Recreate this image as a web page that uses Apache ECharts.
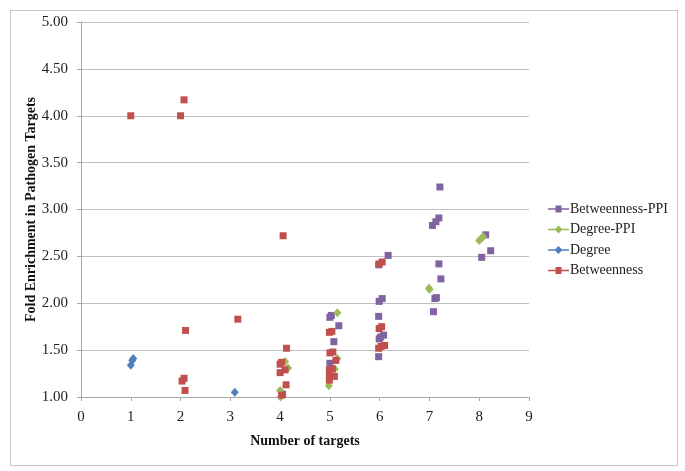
<!DOCTYPE html>
<html>
<head>
<meta charset="utf-8">
<script src="https://cdn.jsdelivr.net/npm/echarts@6/dist/echarts.min.js"></script>
<style>html,body{margin:0;padding:0;background:#fff}#c{width:685px;height:471px}</style>
</head>
<body>
<div id="c"></div>
<script>
var seriesNames = ['Betweenness-PPI', 'Degree-PPI', 'Degree', 'Betweenness'];
var xTicks = [0,1,2,3,4,5,6,7,8,9];
var yTicks = [1.00,1.50,2.00,2.50,3.00,3.50,4.00,4.50,5.00];

var betPpiX = [4.05, 5.03, 5.0, 5.18, 5.08, 5.0, 6.17, 5.98, 6.05, 5.99, 5.98, 6.08, 6.02, 5.99, 5.98, 7.21, 7.19, 7.13, 7.06, 7.19, 7.23, 7.14, 7.11, 7.08, 8.13, 8.23, 8.05];
var betPpiY = [1.03, 1.87, 1.85, 1.76, 1.59, 1.36, 2.51, 2.41, 2.05, 2.02, 1.86, 1.66, 1.64, 1.62, 1.43, 3.24, 2.91, 2.87, 2.83, 2.42, 2.26, 2.06, 2.05, 1.91, 2.73, 2.56, 2.49];

var degPpiX = [4.0, 4.01, 4.1, 4.16, 5.15, 5.15, 5.1, 4.98, 6.99, 7.0, 8.0, 8.04, 8.08];
var degPpiY = [1.07, 1.00, 1.38, 1.31, 1.90, 1.41, 1.30, 1.12, 2.16, 2.15, 2.67, 2.69, 2.71];

var degX = [1.0, 1.03, 1.05, 3.09];
var degY = [1.34, 1.39, 1.41, 1.05];

var betX = [1.0, 2.0, 2.07, 4.06, 2.10, 3.15, 2.03, 2.07, 2.09, 4.13, 4.0, 4.03, 4.0, 4.1, 4.12, 4.03, 4.99, 5.04, 5.0, 5.06, 5.12, 4.99, 5.05, 4.99, 5.09, 4.99, 5.99, 6.05, 5.99, 6.04, 6.1, 6.03, 5.98];
var betY = [4.00, 4.00, 4.17, 2.72, 1.71, 1.83, 1.17, 1.20, 1.07, 1.52, 1.35, 1.37, 1.26, 1.29, 1.13, 1.02, 1.69, 1.70, 1.47, 1.48, 1.39, 1.29, 1.30, 1.22, 1.22, 1.18, 2.42, 2.44, 1.73, 1.75, 1.55, 1.54, 1.52];

function pairs(xs, ys){ return xs.map(function(x,i){ return [x, ys[i]]; }); }

var colors = ['#8064A2', '#9BBB59', '#4F81BD', '#C0504D'];
var sqIcon = 'path://M0,3.3L21,3.3L21,4.7L0,4.7Z M7.5,0.5L13.5,0.5L13.5,7.5L7.5,7.5Z';
var diIcon = 'path://M0,3.3L21,3.3L21,4.7L0,4.7Z M10.5,0L14.5,4L10.5,8L6.5,4Z';
var font = '"Liberation Serif", "Times New Roman", serif';

var chart = echarts.init(document.getElementById('c'), null, {renderer: 'canvas'});
chart.setOption({
  animation: false,
  backgroundColor: '#fff',
  color: colors,
  textStyle: {fontFamily: font},
  graphic: [{
    type: 'rect', left: 8, top: 8, silent: true,
    shape: {width: 667, height: 455},
    style: {fill: 'none', stroke: '#C8C8C8', lineWidth: 1}
  }],
  grid: {left: 81, right: 156, top: 22, bottom: 74},
  legend: {
    orient: 'vertical', left: 543, top: 197, itemGap: 6.5,
    itemWidth: 21, itemHeight: 8,
    textStyle: {fontFamily: font, fontSize: 14, color: '#222', padding: [0,0,0,-4]},
    data: [
      {name: seriesNames[0], icon: sqIcon},
      {name: seriesNames[1], icon: diIcon},
      {name: seriesNames[2], icon: diIcon},
      {name: seriesNames[3], icon: sqIcon}
    ]
  },
  xAxis: {
    type: 'value', min: 0, max: 9, interval: 1,
    name: 'Number of targets', nameLocation: 'middle', nameGap: 37,
    nameTextStyle: {fontFamily: font, fontSize: 14, fontWeight: 'bold', color: '#111'},
    axisLine: {show: true, lineStyle: {color: '#A6A6A6'}},
    axisTick: {show: true, length: 4, lineStyle: {color: '#A6A6A6'}},
    axisLabel: {fontFamily: font, fontSize: 15, color: '#222', margin: 13,
      formatter: function(v){ return xTicks.indexOf(v) >= 0 ? String(v) : ''; }},
    splitLine: {show: false}
  },
  yAxis: {
    type: 'value', min: 1, max: 5, interval: 0.5,
    name: 'Fold Enrichment in Pathogen Targets', nameLocation: 'middle', nameGap: 43,
    nameMoveOverlap: false,
    nameTextStyle: {fontFamily: font, fontSize: 14, fontWeight: 'bold', color: '#111'},
    axisLine: {show: true, lineStyle: {color: '#A6A6A6'}},
    axisTick: {show: true, length: 4, lineStyle: {color: '#A6A6A6'}},
    axisLabel: {fontFamily: font, fontSize: 15, color: '#222', margin: 13,
      formatter: function(v){ return v.toFixed(2); }},
    splitLine: {show: true, lineStyle: {color: '#BFBFBF', width: 1}}
  },
  series: [
    {name: seriesNames[0], type: 'scatter', symbol: 'rect', symbolSize: 7, data: pairs(betPpiX, betPpiY), itemStyle: {color: colors[0], opacity: 1}},
    {name: seriesNames[1], type: 'scatter', symbol: 'diamond', symbolSize: [8,9], data: pairs(degPpiX, degPpiY), itemStyle: {color: colors[1], opacity: 1}},
    {name: seriesNames[2], type: 'scatter', symbol: 'diamond', symbolSize: [8,9], data: pairs(degX, degY), itemStyle: {color: colors[2], opacity: 1}},
    {name: seriesNames[3], type: 'scatter', symbol: 'rect', symbolSize: 7, data: pairs(betX, betY), itemStyle: {color: colors[3], opacity: 1}}
  ]
});
</script>
</body>
</html>
